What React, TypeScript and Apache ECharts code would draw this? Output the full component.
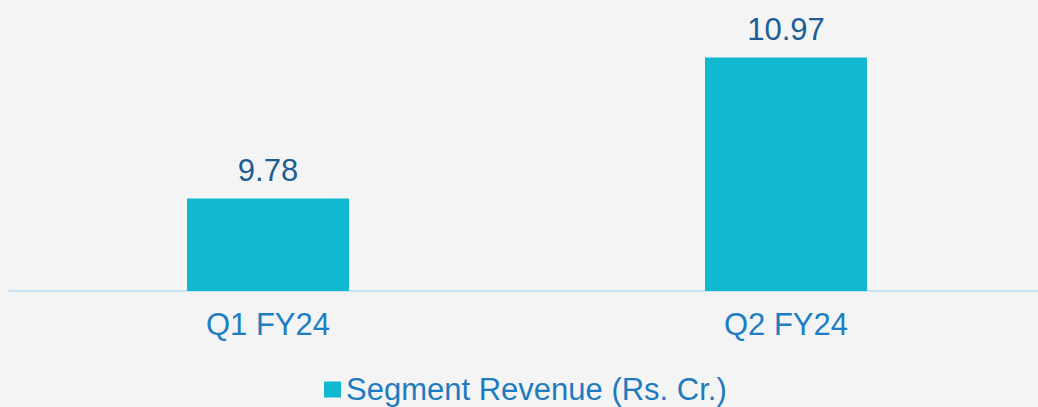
import React, { useEffect, useRef } from "react";
import * as echarts from "echarts";

const categories = ["Q1 FY24", "Q2 FY24"];
const revenue = [9.78, 10.97];
const seriesName = "Segment Revenue (Rs. Cr.)";

export default function App() {
  const ref = useRef<HTMLDivElement>(null);
  useEffect(() => {
    if (!ref.current) return;
    const chart = echarts.init(ref.current, undefined, { renderer: "svg" });
    chart.setOption({
      animation: false,
      backgroundColor: "#f4f4f4",
      textStyle: { fontFamily: "Liberation Sans, Arial, sans-serif" },
      grid: { left: 9, top: 54, width: 1036, height: 237, containLabel: false },
      legend: {
        data: [seriesName],
        left: 324,
        top: 374,
        padding: 0,
        itemWidth: 17,
        itemHeight: 16,
        icon: "rect",
        itemGap: 10,
        textStyle: { fontSize: 31, color: "#1f7bc0", padding: [0, 0, 0, 0] },
      },
      xAxis: {
        type: "category",
        data: categories,
        axisLine: { lineStyle: { color: "#c9e4f7", width: 2 } },
        axisTick: { show: false },
        axisLabel: { fontSize: 31, color: "#1e7ec4", margin: 18 },
      },
      yAxis: {
        type: "value",
        min: 9,
        max: 11,
        show: false,
        splitLine: { show: false },
      },
      series: [
        {
          name: seriesName,
          type: "bar",
          data: revenue,
          barWidth: 162,
          itemStyle: { color: "#0fb8ce" },
          label: {
            show: true,
            position: "top",
            distance: 13,
            fontSize: 31,
            color: "#1b5e95",
            formatter: (p: any) => p.value.toFixed(2),
          },
        },
      ],
    });
    return () => chart.dispose();
  }, []);
  return (
    <div
      ref={ref}
      style={{ position: "fixed", left: 0, top: 0, width: 1046, height: 407 }}
    />
  );
}
